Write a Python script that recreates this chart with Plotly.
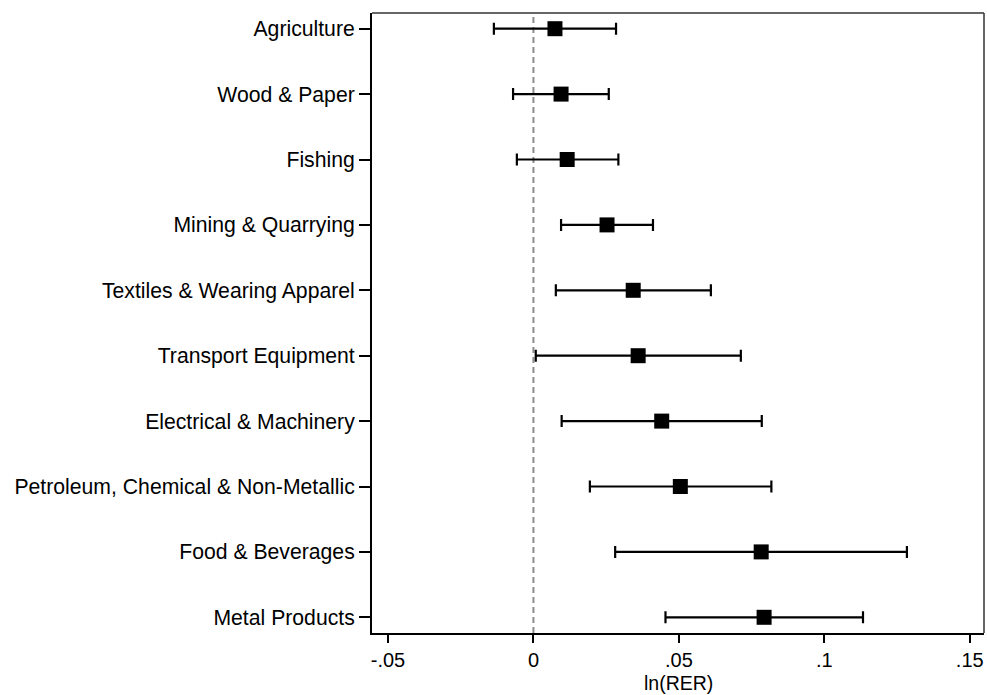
import plotly.graph_objects as go

categories = ["Agriculture", "Wood & Paper", "Fishing", "Mining & Quarrying",
              "Textiles & Wearing Apparel", "Transport Equipment",
              "Electrical & Machinery", "Petroleum, Chemical & Non-Metallic",
              "Food & Beverages", "Metal Products"]
estimate = [0.0074, 0.0095, 0.0116, 0.0253, 0.0343, 0.0360, 0.0441, 0.0505, 0.0783, 0.0793]
ci_low = [-0.0136, -0.0070, -0.0057, 0.0095, 0.0077, 0.0008, 0.0097, 0.0194, 0.0281, 0.0454]
ci_high = [0.0284, 0.0259, 0.0292, 0.0411, 0.0610, 0.0713, 0.0785, 0.0818, 0.1284, 0.1133]
x_ticks = [-0.05, 0, 0.05, 0.1, 0.15]
x_tick_labels = ["-.05", "0", ".05", ".1", ".15"]
x_title = "ln(RER)"

FONT = "Liberation Sans, Arial, Helvetica, sans-serif"
FS = 21.2

plus = [h - e for h, e in zip(ci_high, estimate)]
minus = [e - l for e, l in zip(estimate, ci_low)]

fig = go.Figure()
fig.add_trace(go.Scatter(
    x=estimate, y=categories, mode="markers",
    marker=dict(symbol="square", size=15, color="black"),
    error_x=dict(type="data", symmetric=False, array=plus, arrayminus=minus,
                 color="black", thickness=2.2, width=6),
    showlegend=False,
))

fig.add_shape(type="line", xref="x", yref="y domain", x0=0, x1=0, y0=0, y1=1,
              line=dict(color="#8c8c8c", width=2, dash="6px,4px"), layer="below")
# top and right frame lines
fig.add_shape(type="line", xref="x domain", yref="y domain", x0=0, x1=1, y0=1, y1=1,
              line=dict(color="#333333", width=1.5))
fig.add_shape(type="line", xref="x domain", yref="y domain", x0=1, x1=1, y0=0, y1=1,
              line=dict(color="#333333", width=1.5))

fig.add_annotation(text=x_title, xref="x domain", yref="paper", x=0.5, y=0,
                   xanchor="center", yanchor="bottom", yshift=-62, showarrow=False,
                   borderpad=0, font=dict(family=FONT, size=19.5, color="black"))

fig.update_layout(
    width=987, height=695,
    margin=dict(l=372, r=3, t=13, b=62),
    paper_bgcolor="white", plot_bgcolor="white",
    font=dict(family=FONT, size=FS, color="black"),
    xaxis=dict(
        range=[-0.0555, 0.1549], tickvals=x_ticks, ticktext=x_tick_labels,
        showgrid=False, zeroline=False, showline=True, linecolor="black", linewidth=2,
        ticks="outside", ticklen=8, tickwidth=1.5, tickcolor="black",
        tickfont=dict(size=20),
    ),
    yaxis=dict(
        type="category", categoryarray=categories, range=[9.24, -0.24],
        showgrid=False, zeroline=False, showline=True, linecolor="black", linewidth=2,
        ticks="outside", ticklen=11, tickwidth=1.5, tickcolor="black",
        tickfont=dict(size=FS),
    ),
)

fig.write_html("out.html")
